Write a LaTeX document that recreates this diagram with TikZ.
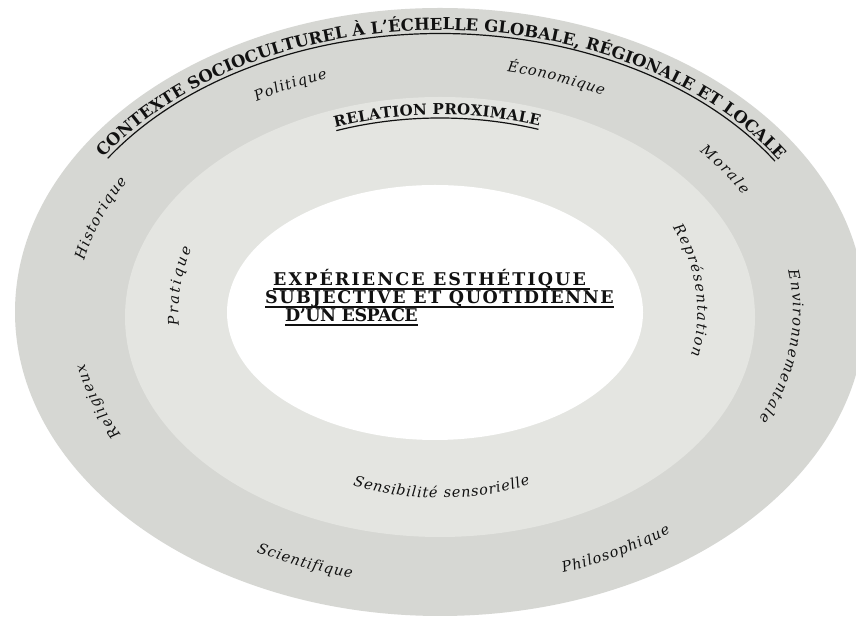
\documentclass[tikz,border=0pt]{standalone}
\usepackage{fontspec}
\setmainfont{DejaVu Serif}
\usetikzlibrary{decorations.text}
\definecolor{outerc}{RGB}{214,215,211}
\definecolor{midc}{RGB}{228,229,225}
\definecolor{ink}{RGB}{17,17,17}
\newcommand\lblfont{\color{ink}\itshape\fontsize{14.5}{15}\selectfont}
\newcommand\ttlfont{\color{ink}\bfseries\fontsize{16.5}{16.5}\selectfont}
\newcommand\subfont{\color{ink}\bfseries\fontsize{15}{15}\selectfont}
\tikzset{
  lbl/.style={decorate, decoration={text along path, text align=fit to path, text={|\lblfont|#1}}},
  ctext/.style={font=\addfontfeatures{LetterSpace=#1}\bfseries\fontsize{17.5}{17.5}\selectfont, text=ink, inner sep=0pt, anchor=base west},
  ul/.style={draw=ink, line width=1.2pt},
}
\begin{document}
\begin{tikzpicture}[x=1pt,y=1pt]
\useasboundingbox (0,0) rectangle (856,620);
\clip (0,0) rectangle (856,620);
\fill[white] (0,0) rectangle (856,620);
% rings
\fill[outerc] (440,308) ellipse [x radius=425pt, y radius=304pt];
\fill[midc] (440,303) ellipse [x radius=315pt, y radius=220pt];
\fill[white] (435,307.5) ellipse [x radius=208pt, y radius=127.5pt];
% title along outer ring
\path[decorate, decoration={text along path, text align=fit to path,
  text={|\ttlfont|CONTEXTE SOCIOCULTUREL À L’ÉCHELLE GLOBALE, RÉGIONALE ET LOCALE}}]
  (440,308) ++(146.8:402pt and 282pt) arc[start angle=146.8, end angle=32.5, x radius=402pt, y radius=282pt];
\draw[ul] (440,308) ++(146.5:398.5pt and 278.5pt) arc[start angle=146.5, end angle=32.8, x radius=398.5pt, y radius=278.5pt];
% relation proximale
\path[decorate, decoration={text along path, text align=fit to path,
  text={|\subfont|RELATION PROXIMALE}}]
  (440,308) ++(110.8:295pt and 197.5pt) arc[start angle=110.8, end angle=70.3, x radius=295pt, y radius=197.5pt];
\draw[ul] (440,308) ++(110.8:292pt and 194pt) arc[start angle=110.8, end angle=70.3, x radius=292pt, y radius=194pt];
% outer ring labels
\path[lbl={Politique}] (440,308) ++(121.7:349pt and 247pt) arc[start angle=121.7, end angle=108.8, x radius=349pt, y radius=247pt];
\path[lbl={Économique}] (440,308) ++(78.8:346pt and 245pt) arc[start angle=78.8, end angle=61.9, x radius=346pt, y radius=245pt];
\path[lbl={Morale}] (440,308) ++(41.2:345pt and 244pt) arc[start angle=41.2, end angle=28.6, x radius=345pt, y radius=244pt];
\path[lbl={Historique}] (440,308) ++(168.5:363pt and 257pt) arc[start angle=168.5, end angle=149.5, x radius=363pt, y radius=257pt];
\path[lbl={Religieux}] (440,308) ++(208.4:363pt and 257pt) arc[start angle=208.4, end angle=191.6, x radius=363pt, y radius=257pt];
\path[lbl={Environnementale}] (440,308) ++(9.5:353pt and 250pt) arc[start angle=9.5, end angle=-25.5, x radius=353pt, y radius=250pt];
\path[lbl={Scientifique}] (440,308) ++(241.6:386pt and 273pt) arc[start angle=241.6, end angle=256.8, x radius=386pt, y radius=273pt];
\path[lbl={Philosophique}] (440,308) ++(288.5:388pt and 275pt) arc[start angle=288.5, end angle=306.5, x radius=388pt, y radius=275pt];
% middle ring labels
\path[lbl={Pratique}] (440,308) ++(183.9:261.6pt and 201pt) arc[start angle=183.9, end angle=161.7, x radius=261.6pt, y radius=201pt];
\path[lbl={Représentation}] (440,308) ++(25.2:257.4pt and 198pt) arc[start angle=25.2, end angle=-12.8, x radius=257.4pt, y radius=198pt];
\path[lbl={Sensibilité sensorielle}] (440,308) ++(248.9:242pt and 186pt) arc[start angle=248.9, end angle=291.9, x radius=242pt, y radius=186pt];
% centre text
\node[ctext=12] (l1) at (273,334) {EXPÉRIENCE ESTHÉTIQUE};
\node[ctext=9] (l2) at (265,316) {SUBJECTIVE ET QUOTIDIENNE};
\node[ctext=-3] (l3) at (285,298) {D’UN ESPACE};
\draw[ul] ([yshift=-3pt]l1.base west) -- ([yshift=-3pt,xshift=3.5pt]l1.base east);
\draw[ul] ([yshift=-3pt]l2.base west) -- ([yshift=-3pt]l2.base east);
\draw[ul] ([yshift=-3pt]l3.base west) -- ([yshift=-3pt]l3.base east);
\end{tikzpicture}
\end{document}
